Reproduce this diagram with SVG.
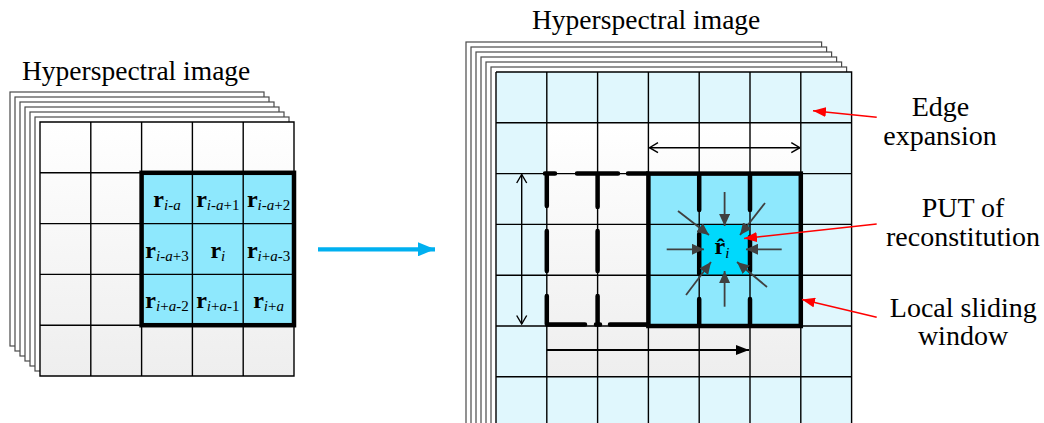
<svg xmlns="http://www.w3.org/2000/svg" width="1044" height="423" viewBox="0 0 1044 423">
<style>
.layer{fill:#ffffff;stroke:#4a4a4a;stroke-width:1.2}
.grid{fill:none;stroke:#000;stroke-width:1.4}
.thick{fill:none;stroke:#000;stroke-width:4.5}
.dash{fill:none;stroke:#000;stroke-width:4.5;stroke-linecap:round}
.lbl{font-family:"Liberation Serif","Times New Roman",serif;font-size:28px;fill:#000}
.ttl{font-family:"Liberation Serif","Times New Roman",serif;font-size:27.5px;fill:#000}
.r{font-family:"Liberation Serif","Times New Roman",serif;font-size:24px;font-weight:bold;fill:#000}
.sub{font-family:"Liberation Serif","Times New Roman",serif;font-size:15px;font-weight:normal;fill:#000}
.it{font-style:italic}
.gray{stroke:#404040;stroke-width:1.8;fill:none;marker-end:url(#grayHead)}
.red{stroke:#ff0000;stroke-width:1.6;fill:none;marker-end:url(#redHead)}
.dbl{stroke:#000;stroke-width:1.4;fill:none;marker-start:url(#openHead);marker-end:url(#openHead)}
</style>
<defs>
<linearGradient id="gL" x1="0" y1="0" x2="0" y2="1">
<stop offset="0" stop-color="#ffffff"/><stop offset="1" stop-color="#eeeeee"/>
</linearGradient>
<marker id="openHead" viewBox="0 0 10 12" refX="9.5" refY="6" markerWidth="10" markerHeight="12" markerUnits="userSpaceOnUse" orient="auto-start-reverse">
<path d="M1,1 L9.5,6 L1,11" fill="none" stroke="#000" stroke-width="1.4"/>
</marker>
<marker id="blackHead" viewBox="0 0 13 10" refX="13" refY="5" markerWidth="13" markerHeight="10" markerUnits="userSpaceOnUse" orient="auto">
<path d="M0,0 L13,5 L0,10 Z" fill="#000"/>
</marker>
<marker id="blueHead" viewBox="0 0 17 14" refX="17" refY="7" markerWidth="17" markerHeight="14" markerUnits="userSpaceOnUse" orient="auto">
<path d="M0,0 L17,7 L0,14 Z" fill="#00b0f0"/>
</marker>
<marker id="redHead" viewBox="0 0 13 10" refX="13" refY="5" markerWidth="13" markerHeight="10" markerUnits="userSpaceOnUse" orient="auto">
<path d="M0,0 L13,5 L0,10 Z" fill="#ff0000"/>
</marker>
<marker id="grayHead" viewBox="0 0 12 11" refX="12" refY="5.5" markerWidth="12" markerHeight="11" markerUnits="userSpaceOnUse" orient="auto">
<path d="M0,0 L12,5.5 L0,11 Z" fill="#404040"/>
</marker>
</defs>
<rect width="1044" height="423" fill="#ffffff"/>

<!-- Left hyperspectral image -->
<g id="left-image">
<text class="ttl" x="22" y="80">Hyperspectral image</text>
<rect class="layer" x="10" y="92" width="254" height="254"/>
<rect class="layer" x="15" y="97" width="254" height="254"/>
<rect class="layer" x="20" y="102" width="254" height="254"/>
<rect class="layer" x="25" y="107" width="254" height="254"/>
<rect class="layer" x="30" y="112" width="254" height="254"/>
<rect class="layer" x="35" y="117" width="254" height="254"/>
<rect x="40" y="122" width="254" height="254" fill="url(#gL)"/>
<rect x="141.6" y="172.8" width="152.4" height="152.4" fill="#8ee8fd"/>
<path class="grid" d="M40,122H294V376H40Z M90.8,122V376 M141.6,122V376 M192.4,122V376 M243.2,122V376 M40,172.8H294 M40,223.6H294 M40,274.4H294 M40,325.2H294"/>
<rect class="thick" x="141.6" y="172.8" width="152.4" height="152.4"/>
</g>

<g id="left-labels">
<text x="167" y="206.5" text-anchor="middle"><tspan class="r">r</tspan><tspan class="sub it" dy="3">i-a</tspan></text>
<text x="217.8" y="206.5" text-anchor="middle"><tspan class="r">r</tspan><tspan class="sub" dy="3"><tspan class="it">i-a</tspan>+1</tspan></text>
<text x="268.6" y="206.5" text-anchor="middle"><tspan class="r">r</tspan><tspan class="sub" dy="3"><tspan class="it">i-a</tspan>+2</tspan></text>
<text x="167" y="257.5" text-anchor="middle"><tspan class="r">r</tspan><tspan class="sub" dy="3"><tspan class="it">i-a</tspan>+3</tspan></text>
<text x="217.8" y="257.5" text-anchor="middle"><tspan class="r">r</tspan><tspan class="sub it" dy="3">i</tspan></text>
<text x="268.6" y="257.5" text-anchor="middle"><tspan class="r">r</tspan><tspan class="sub" dy="3"><tspan class="it">i</tspan>+<tspan class="it">a</tspan>-3</tspan></text>
<text x="167" y="307.5" text-anchor="middle"><tspan class="r">r</tspan><tspan class="sub" dy="3"><tspan class="it">i</tspan>+<tspan class="it">a</tspan>-2</tspan></text>
<text x="217.8" y="307.5" text-anchor="middle"><tspan class="r">r</tspan><tspan class="sub" dy="3"><tspan class="it">i</tspan>+<tspan class="it">a</tspan>-1</tspan></text>
<text x="268.6" y="307.5" text-anchor="middle"><tspan class="r">r</tspan><tspan class="sub" dy="3"><tspan class="it">i</tspan>+<tspan class="it">a</tspan></tspan></text>
</g>

<!-- Right hyperspectral image -->
<g id="right-image">
<text class="ttl" x="532" y="29">Hyperspectral image</text>
<rect class="layer" x="466" y="42" width="355.6" height="400"/>
<rect class="layer" x="471" y="47" width="355.6" height="400"/>
<rect class="layer" x="476" y="52" width="355.6" height="400"/>
<rect class="layer" x="481" y="57" width="355.6" height="400"/>
<rect class="layer" x="486" y="62" width="355.6" height="400"/>
<rect class="layer" x="491" y="67" width="355.6" height="400"/>
<rect x="496" y="72" width="355.6" height="380" fill="#e0f7fd"/>
<rect x="546.8" y="122.8" width="254" height="254" fill="url(#gL)"/>
<rect x="648.4" y="173.6" width="152.4" height="152.4" fill="#8ee8fd"/>
<rect x="699.2" y="224.4" width="50.8" height="50.8" fill="#00d9fc"/>
<path class="grid" d="M496,72H851.6V440 M496,72V440 M546.8,72V440 M597.6,72V440 M648.4,72V440 M699.2,72V440 M750,72V440 M800.8,72V440 M496,122.8H851.6 M496,173.6H851.6 M496,224.4H851.6 M496,275.2H851.6 M496,326H851.6 M496,376.8H851.6"/>
</g>

<g id="sliding-window">
<rect class="thick" x="648.4" y="173.6" width="152.4" height="152.4"/>
<path class="dash" d="M546.8,174V206 M546.8,231V271 M546.8,296V324 M597.6,174V207 M597.6,231V271 M597.6,296V324 M699.2,174V210 M699.2,234V274 M699.2,299V324 M750,174V210 M750,237V271 M750,299V324 M545,173.6H555 M577,173.6H618 M628,173.6H648 M547,324.6H585 M596,324.6H600 M610,324.6H648"/>
</g>

<g id="put-node">
<text x="722" y="254" text-anchor="middle"><tspan class="r">r̂</tspan><tspan class="sub it" dy="4">i</tspan></text>
</g>

<g id="edge-label"><text class="lbl" x="940.5" y="116" text-anchor="middle">Edge</text><text class="lbl" x="940" y="145" text-anchor="middle">expansion</text></g>
<g id="put-label"><text class="lbl" x="963" y="216.7" text-anchor="middle">PUT of</text><text class="lbl" x="963" y="245.7" text-anchor="middle">reconstitution</text></g>
<g id="window-label"><text class="lbl" x="963.3" y="317" text-anchor="middle">Local sliding</text><text class="lbl" x="963" y="345" text-anchor="middle">window</text></g>

<g id="connectors">
<line x1="318" y1="249.3" x2="435" y2="249.3" stroke="#00b0f0" stroke-width="4.2" marker-end="url(#blueHead)"/>
<line class="dbl" x1="649.5" y1="147.7" x2="799.8" y2="147.7"/>
<line class="dbl" x1="521.7" y1="174.5" x2="521.7" y2="324"/>
<line x1="546.8" y1="350" x2="749" y2="350" stroke="#000" stroke-width="2" marker-end="url(#blackHead)"/>
<line class="gray" x1="724.6" y1="192" x2="724.6" y2="226"/>
<line class="gray" x1="724.6" y1="306.7" x2="724.6" y2="271"/>
<line class="gray" x1="666.7" y1="249.3" x2="704" y2="249.3"/>
<line class="gray" x1="781.7" y1="249.3" x2="746" y2="249.3"/>
<line class="gray" x1="678" y1="211" x2="709" y2="235"/>
<line class="gray" x1="765" y1="203" x2="740" y2="235"/>
<line class="gray" x1="686" y1="295" x2="711" y2="262"/>
<line class="gray" x1="767" y1="287" x2="737" y2="262"/>
<line class="red" x1="876.7" y1="117.3" x2="813" y2="110.7"/>
<line class="red" x1="876.7" y1="224" x2="744" y2="238.5"/>
<line class="red" x1="876.7" y1="317.3" x2="802" y2="299.5"/>
</g>
</svg>
